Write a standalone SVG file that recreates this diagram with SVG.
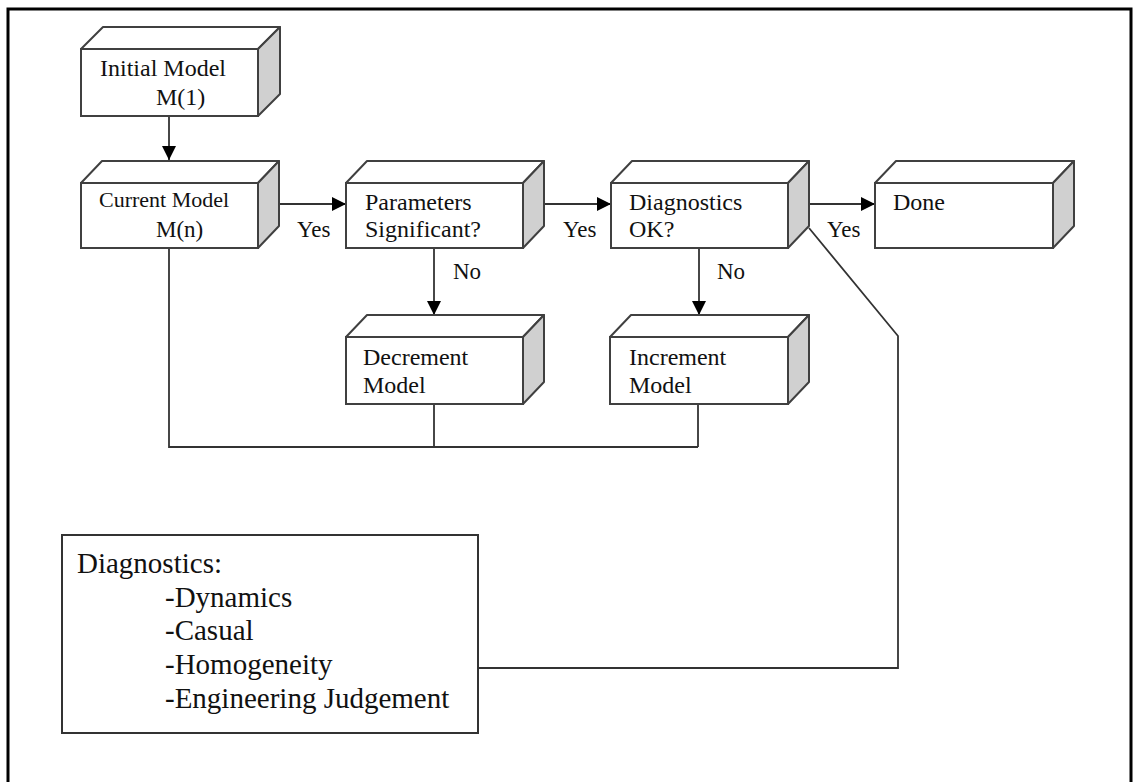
<svg xmlns="http://www.w3.org/2000/svg" width="1135" height="782" viewBox="0 0 1135 782">
<style>
  .front{fill:#fff;stroke:#404040;stroke-width:2}
  .top{fill:#fff;stroke:#404040;stroke-width:2;stroke-linejoin:round}
  .side{fill:#d0d0d0;stroke:#404040;stroke-width:2;stroke-linejoin:round}
  .t{font-family:"Liberation Serif","Times New Roman",serif;font-size:23px;fill:#111}
  .tl{font-family:"Liberation Serif","Times New Roman",serif;font-size:29px;fill:#111}
  .c{fill:none;stroke:#333;stroke-width:1.8}
</style>
<defs>
  <marker id="ah" markerWidth="14" markerHeight="14" refX="14" refY="7" orient="auto" markerUnits="userSpaceOnUse">
    <path d="M0,0 L14,7 L0,14 Z" fill="#000"/>
  </marker>
</defs>
<rect width="1135" height="782" fill="#fff"/>
<path d="M8,790 V9 H1131 V790" fill="none" stroke="#000" stroke-width="3"/>

<g id="connectors">
  <line class="c" x1="169" y1="116" x2="169" y2="160" marker-end="url(#ah)"/>
  <line class="c" x1="279" y1="204" x2="346" y2="204" marker-end="url(#ah)"/>
  <line class="c" x1="544" y1="204" x2="611" y2="204" marker-end="url(#ah)"/>
  <line class="c" x1="809" y1="204" x2="875" y2="204" marker-end="url(#ah)"/>
  <line class="c" x1="434" y1="248" x2="434" y2="315" marker-end="url(#ah)"/>
  <line class="c" x1="699" y1="248" x2="699" y2="315" marker-end="url(#ah)"/>
  <path class="c" d="M169,248 V447 H698"/>
  <path class="c" d="M434,404 V447"/>
  <path class="c" d="M698,404 V447"/>
  <path class="c" d="M809,228 L898,336 V668 H478"/>
  <text class="t" x="297" y="237">Yes</text>
  <text class="t" x="563" y="237">Yes</text>
  <text class="t" x="827" y="237">Yes</text>
  <text class="t" x="453" y="279">No</text>
  <text class="t" x="717" y="279">No</text>
</g>

<g id="initial-model">
  <polygon class="top" points="81,49 103,27 280,27 258,49"/>
  <polygon class="side" points="258,49 280,27 280,94 258,116"/>
  <rect class="front" x="81" y="49" width="177" height="67"/>
  <text class="t" x="100" y="76" style="font-size:24px">Initial Model</text>
  <text class="t" x="156" y="105" style="font-size:24px">M(1)</text>
</g>

<g id="current-model">
  <polygon class="top" points="81,183 102,161 279,161 258,183"/>
  <polygon class="side" points="258,183 279,161 279,226 258,248"/>
  <rect class="front" x="81" y="183" width="177" height="65"/>
  <text class="t" x="99" y="207" style="font-size:22px">Current Model</text>
  <text class="t" x="156" y="237">M(n)</text>
</g>

<g id="parameters-significant">
  <polygon class="top" points="346,183 367,161 544,161 523,183"/>
  <polygon class="side" points="523,183 544,161 544,226 523,248"/>
  <rect class="front" x="346" y="183" width="177" height="65"/>
  <text class="t" x="365" y="210" style="font-size:24px">Parameters</text>
  <text class="t" x="365" y="237" style="font-size:24px">Significant?</text>
</g>

<g id="diagnostics-ok">
  <polygon class="top" points="611,183 632,161 809,161 788,183"/>
  <polygon class="side" points="788,183 809,161 809,226 788,248"/>
  <rect class="front" x="611" y="183" width="177" height="65"/>
  <text class="t" x="629" y="210" style="font-size:24px">Diagnostics</text>
  <text class="t" x="629" y="237" style="font-size:24px">OK?</text>
</g>

<g id="done">
  <polygon class="top" points="875,183 896,161 1074,161 1053,183"/>
  <polygon class="side" points="1053,183 1074,161 1074,226 1053,248"/>
  <rect class="front" x="875" y="183" width="178" height="65"/>
  <text class="t" x="893" y="210" style="font-size:24px">Done</text>
</g>

<g id="decrement-model">
  <polygon class="top" points="346,337 367,315 544,315 523,337"/>
  <polygon class="side" points="523,337 544,315 544,382 523,404"/>
  <rect class="front" x="346" y="337" width="177" height="67"/>
  <text class="t" x="363" y="365" style="font-size:24px">Decrement</text>
  <text class="t" x="363" y="393" style="font-size:24px">Model</text>
</g>

<g id="increment-model">
  <polygon class="top" points="610,337 631,315 809,315 788,337"/>
  <polygon class="side" points="788,337 809,315 809,382 788,404"/>
  <rect class="front" x="610" y="337" width="178" height="67"/>
  <text class="t" x="629" y="365" style="font-size:24px">Increment</text>
  <text class="t" x="629" y="393" style="font-size:24px">Model</text>
</g>

<g id="diagnostics-list">
  <rect x="62" y="535" width="416" height="198" fill="#fff" stroke="#333" stroke-width="2"/>
  <text class="tl" x="77" y="573">Diagnostics:</text>
  <text class="tl" x="165" y="607">-Dynamics</text>
  <text class="tl" x="165" y="640">-Casual</text>
  <text class="tl" x="165" y="674">-Homogeneity</text>
  <text class="tl" x="165" y="708">-Engineering Judgement</text>
</g>
</svg>
